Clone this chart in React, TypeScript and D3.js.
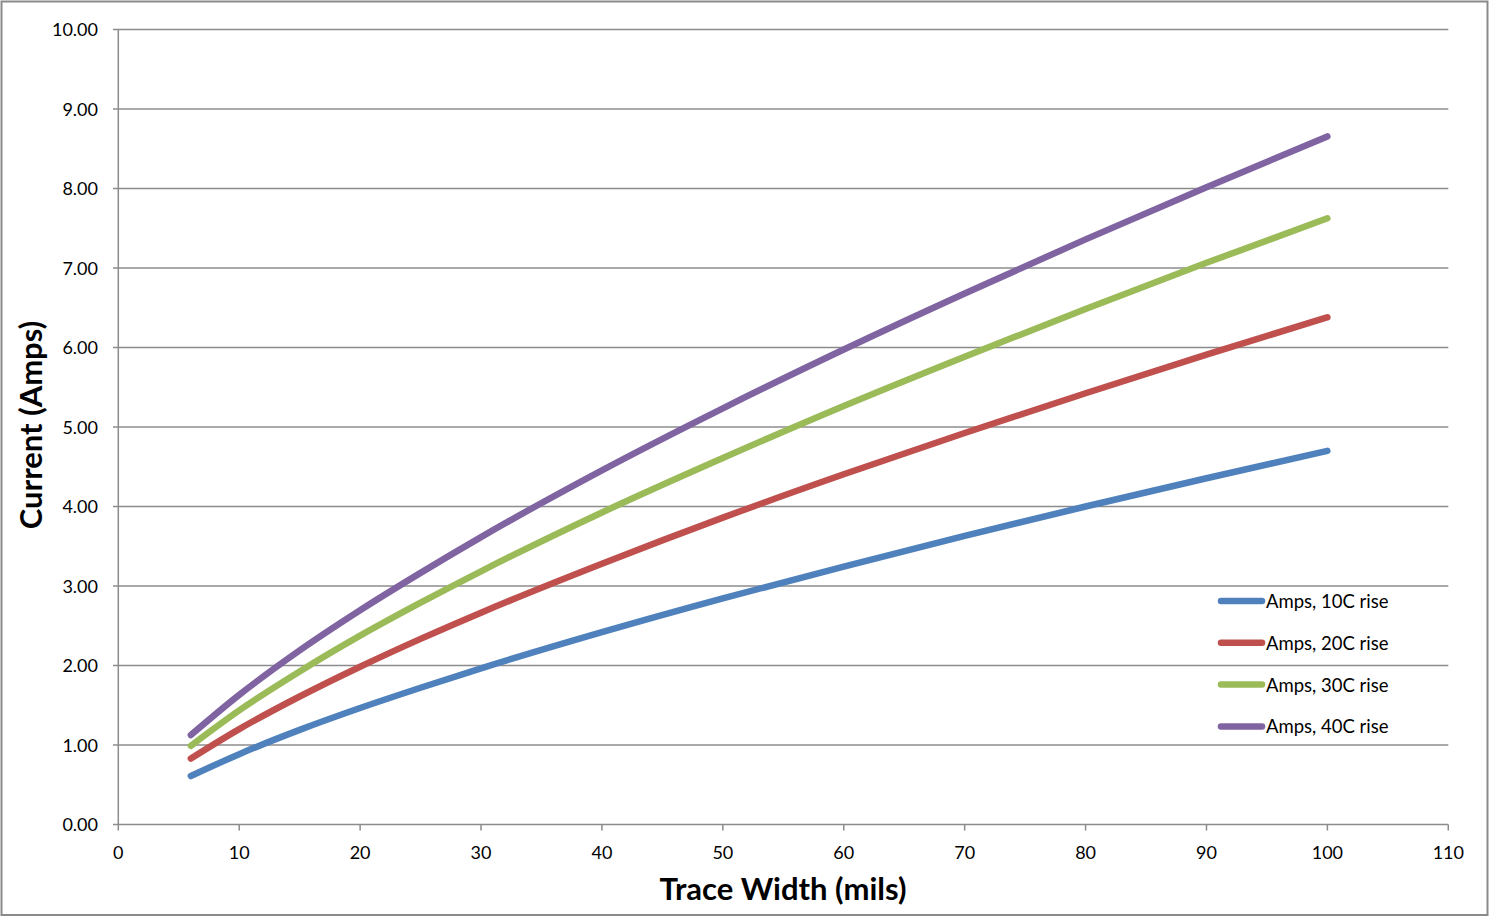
import React from "react";
import * as d3 from "d3";

const widths = [6, 10, 15, 20, 25, 30, 40, 50, 60, 70, 80, 90, 100];
const amps10 = [0.61, 0.885, 1.19, 1.465, 1.72, 1.965, 2.42, 2.845, 3.245, 3.63, 4.0, 4.355, 4.7];
const amps20 = [0.83, 1.2, 1.61, 1.985, 2.335, 2.665, 3.28, 3.86, 4.405, 4.925, 5.425, 5.91, 6.38];
const amps30 = [0.99, 1.435, 1.925, 2.375, 2.79, 3.185, 3.925, 4.61, 5.265, 5.885, 6.485, 7.065, 7.625];
const amps40 = [1.125, 1.63, 2.19, 2.695, 3.165, 3.615, 4.455, 5.235, 5.975, 6.68, 7.36, 8.015, 8.655];
const seriesNames = ["Amps, 10C rise", "Amps, 20C rise", "Amps, 30C rise", "Amps, 40C rise"];
const seriesColors = ["#4F81BD", "#C0504D", "#9BBB59", "#8064A2"];
const xTicks = [0, 10, 20, 30, 40, 50, 60, 70, 80, 90, 100, 110];
const yTicks = [0, 1, 2, 3, 4, 5, 6, 7, 8, 9, 10];

const W = 1489;
const H = 918;
const FONT = "Lato, 'Open Sans', sans-serif";

export default function App() {
  const x = d3.scaleLinear().domain([0, 110]).range([118.3, 1448.3]);
  const y = d3.scaleLinear().domain([0, 10]).range([824.5, 29.5]);
  const allSeries = [amps10, amps20, amps30, amps40];
  const line = d3
    .line<[number, number]>()
    .x((d) => x(d[0]))
    .y((d) => y(d[1]))
    .curve(d3.curveMonotoneX);

  return (
    <div style={{ position: "absolute", left: 0, top: 0 }}>
      <svg width={W} height={H} style={{ display: "block", background: "#fff" }}>
        <rect x={1.5} y={1.5} width={1486} height={913.5} fill="#fff" stroke="#8a8a8a" strokeWidth={2} />
        {/* gridlines + y ticks */}
        {yTicks.map((t) => (
          <g key={"y" + t}>
            <line x1={113} x2={1448.3} y1={y(t)} y2={y(t)} stroke="#8c8c8c" strokeWidth={1.5} />
            <text
              x={98}
              y={y(t)}
              dy="0.38em"
              textAnchor="end"
              fontFamily={FONT}
              fontSize={18}
              fill="#000"
            >
              {t.toFixed(2)}
            </text>
          </g>
        ))}
        {/* y axis line */}
        <line x1={x(0)} x2={x(0)} y1={y(10)} y2={y(0)} stroke="#8c8c8c" strokeWidth={1.5} />
        {/* x ticks */}
        {xTicks.map((t) => (
          <g key={"x" + t}>
            <line x1={x(t)} x2={x(t)} y1={y(0)} y2={y(0) + 6} stroke="#8c8c8c" strokeWidth={1.5} />
            <text
              x={x(t)}
              y={859}
              textAnchor="middle"
              fontFamily={FONT}
              fontSize={18}
              fill="#000"
            >
              {t}
            </text>
          </g>
        ))}
        {/* series */}
        {allSeries.map((vals, i) => (
          <path
            key={"s" + i}
            d={line(widths.map((w, j) => [w, vals[j]] as [number, number])) || ""}
            fill="none"
            stroke={seriesColors[i]}
            strokeWidth={6.5}
            strokeLinecap="round"
            strokeLinejoin="round"
          />
        ))}
        {/* legend */}
        {seriesNames.map((name, i) => {
          const ly = 601 + i * 41.8;
          return (
            <g key={"l" + i}>
              <line x1={1221} x2={1262} y1={ly} y2={ly} stroke={seriesColors[i]} strokeWidth={6.5} strokeLinecap="round" />
              <text x={1266} y={ly} dy="0.38em" fontFamily={FONT} fontSize={18.5} fill="#000">
                {name}
              </text>
            </g>
          );
        })}
        {/* axis titles */}
        <text
          x={783}
          y={900}
          textAnchor="middle"
          fontFamily={FONT}
          fontWeight="bold"
          fontSize={31}
          fill="#000"
        >
          Trace Width (mils)
        </text>
        <text
          transform="translate(42,425) rotate(-90)"
          textAnchor="middle"
          fontFamily={FONT}
          fontWeight="bold"
          fontSize={31}
          fill="#000"
        >
          Current (Amps)
        </text>
      </svg>
    </div>
  );
}
